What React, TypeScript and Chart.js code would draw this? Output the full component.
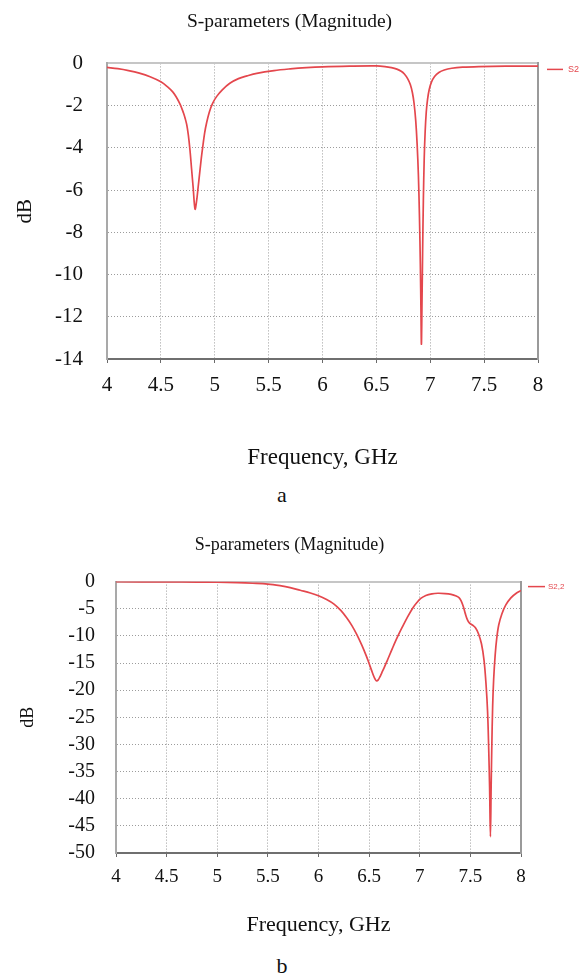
import React, { useEffect, useRef } from "react";
import { Chart, registerables } from "chart.js";

Chart.register(...registerables);

const SERIF = '"Liberation Serif", "Times New Roman", serif';
const SANS = '"Liberation Sans", Arial, sans-serif';

// ---- data -------------------------------------------------------------

const seriesLabel = "S2,2";
const chartTitle = "S-parameters (Magnitude)";
const xAxisTitle = "Frequency, GHz";
const yAxisTitle = "dB";

// panel a: |S2,2| in dB
const freqA = [
  4.0, 4.1, 4.2, 4.3, 4.4, 4.5, 4.56, 4.61, 4.64, 4.68, 4.71, 4.725, 4.74,
  4.755, 4.77, 4.785, 4.8, 4.817, 4.832, 4.845, 4.86, 4.875, 4.89, 4.906,
  4.925, 4.95, 4.98, 5.02, 5.07, 5.14, 5.22, 5.3, 5.39, 5.55, 5.7, 5.85, 6.0,
  6.25, 6.5, 6.58, 6.64, 6.69, 6.73, 6.76, 6.79, 6.815, 6.835, 6.85, 6.865,
  6.878, 6.89, 6.9, 6.908, 6.914, 6.918, 6.923, 6.929, 6.936, 6.944, 6.953,
  6.963, 6.975, 6.99, 7.01, 7.04, 7.08, 7.13, 7.2, 7.3, 7.45, 7.7, 8.0,
];
const s22A = [
  -0.19, -0.25, -0.34, -0.46, -0.63, -0.87, -1.1, -1.35, -1.57, -1.95, -2.35,
  -2.6, -2.9, -3.4, -4.1, -5.0, -5.9, -6.9, -6.5, -5.9, -5.2, -4.5, -3.9,
  -3.3, -2.8, -2.3, -1.89, -1.55, -1.25, -0.94, -0.72, -0.59, -0.47, -0.34,
  -0.26, -0.2, -0.16, -0.13, -0.12, -0.15, -0.2, -0.27, -0.37, -0.5, -0.72,
  -1.0, -1.4, -1.9, -2.7, -3.8, -5.3, -7.3, -9.5, -11.8, -13.3, -11.5, -9.0,
  -6.5, -4.5, -3.2, -2.3, -1.7, -1.25, -0.9, -0.62, -0.43, -0.31, -0.23,
  -0.18, -0.15, -0.13, -0.13,
];

// panel b: |S2,2| in dB
const freqB = [
  4.0, 4.5, 4.8, 5.0, 5.2, 5.35, 5.5, 5.62, 5.72, 5.82, 5.92, 6.0, 6.08, 6.15,
  6.22, 6.28, 6.33, 6.38, 6.43, 6.47, 6.5, 6.525, 6.545, 6.56, 6.575, 6.59,
  6.605, 6.625, 6.65, 6.68, 6.73, 6.78, 6.83, 6.88, 6.93, 6.97, 7.01, 7.06,
  7.12, 7.18, 7.25, 7.31, 7.36, 7.39, 7.41, 7.43, 7.45, 7.47, 7.49, 7.52,
  7.55, 7.58, 7.61, 7.635, 7.655, 7.67, 7.68, 7.69, 7.698, 7.705, 7.712, 7.72,
  7.73, 7.745, 7.76, 7.78, 7.81, 7.85, 7.9, 7.95, 8.0,
];
const s22B = [
  -0.02, -0.05, -0.08, -0.12, -0.2, -0.3, -0.45, -0.75, -1.1, -1.6, -2.1,
  -2.6, -3.3, -4.1, -5.3, -6.7, -8.1, -9.8, -11.8, -13.6, -15.1, -16.4,
  -17.4, -18.0, -18.3, -18.1, -17.6, -16.8, -15.8, -14.5, -12.3, -10.2, -8.3,
  -6.5, -4.9, -3.9, -3.1, -2.55, -2.25, -2.15, -2.2, -2.35, -2.65, -3.0, -3.6,
  -4.6, -5.9, -7.0, -7.6, -8.0, -8.5, -9.6, -11.5, -14.5, -19, -24, -30, -38,
  -47, -38, -30, -23, -18, -13.5, -10.5, -8.0, -6.0, -4.3, -3.0, -2.2, -1.66,
];

const freqTicks = [4, 4.5, 5, 5.5, 6, 6.5, 7, 7.5, 8];
const dbTicksA = [0, -2, -4, -6, -8, -10, -12, -14];
const dbTicksB = [0, -5, -10, -15, -20, -25, -30, -35, -40, -45, -50];

// ---- chart helpers ----------------------------------------------------

const LINE_RED = "#e4474d";

// small legend entry drawn to the right of the plot frame
const sideLegend = {
  id: "sideLegend",
  afterDraw(chart: any, _args: any, opts: any) {
    const { ctx, chartArea } = chart;
    const ds = chart.data.datasets[0];
    const y = chartArea.top + opts.dy;
    const x0 = chartArea.right + opts.dx;
    ctx.save();
    ctx.strokeStyle = ds.borderColor;
    ctx.lineWidth = 1.5;
    ctx.beginPath();
    ctx.moveTo(x0, y);
    ctx.lineTo(x0 + opts.len, y);
    ctx.stroke();
    ctx.fillStyle = ds.borderColor;
    ctx.font = `${opts.size}px ${SANS}`;
    ctx.textBaseline = "middle";
    ctx.textAlign = "left";
    ctx.fillText(ds.label, x0 + opts.len + opts.gap, y);
    ctx.restore();
  },
};

type PanelSpec = {
  top: number;
  height: number;
  freq: number[];
  db: number[];
  yTicks: number[];
  titleSize: number;
  titlePad: { top: number; bottom: number };
  yWidth: number;
  yTickSize: number;
  yTickPad: number;
  yTitleSize: number;
  yTitlePad: number;
  rightWidth: number;
  xTickSize: number;
  xTickPad: number;
  xHeight: number;
  xTitleSize: number;
  legend: { dx: number; dy: number; len: number; gap: number; size: number };
};

const gridColor = "#9c9c9c";

function buildConfig(p: PanelSpec): any {
  const yMin = Math.min(...p.yTicks);
  const yMax = Math.max(...p.yTicks);
  const xMin = Math.min(...freqTicks);
  const xMax = Math.max(...freqTicks);
  return {
    type: "line",
    data: {
      datasets: [
        {
          label: seriesLabel,
          data: p.freq.map((f, i) => ({ x: f, y: p.db[i] })),
          borderColor: LINE_RED,
          backgroundColor: LINE_RED,
          borderWidth: 1.7,
          pointRadius: 0,
          tension: 0.35,
          fill: false,
        },
      ],
    },
    options: {
      responsive: false,
      animation: false,
      events: [],
      layout: { padding: 0 },
      plugins: {
        legend: { display: false },
        tooltip: { enabled: false },
        title: {
          display: true,
          text: chartTitle,
          color: "#111",
          font: { family: SERIF, size: p.titleSize, weight: "normal" },
          padding: p.titlePad,
        },
        sideLegend: p.legend,
      },
      scales: {
        x: {
          type: "linear",
          position: "bottom",
          min: xMin,
          max: xMax,
          afterBuildTicks: (s: any) => {
            s.ticks = freqTicks.map((v) => ({ value: v }));
          },
          afterFit: (s: any) => {
            s.height = p.xHeight;
          },
          ticks: {
            callback: (v: any) => String(v),
            color: "#111",
            font: { family: SERIF, size: p.xTickSize },
            padding: p.xTickPad,
            maxRotation: 0,
            autoSkip: false,
          },
          grid: {
            color: gridColor,
            lineWidth: 1,
            drawTicks: true,
            tickLength: 4,
            tickColor: "#6a6a6a",
            tickWidth: 1,
          },
          border: { display: true, color: "#6f6f6f", width: 2, dash: [1, 2] },
          title: {
            display: true,
            text: xAxisTitle,
            color: "#111",
            font: { family: SERIF, size: p.xTitleSize },
            padding: { top: 0, bottom: 0 },
          },
        },
        xTop: {
          type: "linear",
          position: "top",
          min: xMin,
          max: xMax,
          afterFit: (s: any) => {
            s.height = 0;
          },
          ticks: { display: false },
          grid: { display: false },
          border: { display: true, color: "#c6c6c6", width: 2 },
        },
        y: {
          type: "linear",
          position: "left",
          min: yMin,
          max: yMax,
          afterBuildTicks: (s: any) => {
            s.ticks = p.yTicks.map((v) => ({ value: v }));
          },
          afterFit: (s: any) => {
            s.width = p.yWidth;
          },
          ticks: {
            callback: (v: any) => String(v),
            color: "#111",
            font: { family: SERIF, size: p.yTickSize },
            padding: p.yTickPad,
          },
          grid: { color: gridColor, lineWidth: 1, drawTicks: false },
          border: { display: true, color: "#a9a9a9", width: 2, dash: [1, 2] },
          title: {
            display: true,
            text: yAxisTitle,
            color: "#111",
            font: { family: SERIF, size: p.yTitleSize },
            padding: { top: p.yTitlePad, bottom: 0 },
          },
        },
        yRight: {
          type: "linear",
          position: "right",
          min: yMin,
          max: yMax,
          afterFit: (s: any) => {
            s.width = p.rightWidth;
          },
          ticks: { display: false },
          grid: { display: false },
          border: { display: true, color: "#9a9a9a", width: 2 },
        },
      },
    },
    plugins: [sideLegend],
  };
}

function Panel({ spec }: { spec: PanelSpec }) {
  const ref = useRef<HTMLCanvasElement | null>(null);
  useEffect(() => {
    if (!ref.current) return;
    const chart = new Chart(ref.current, buildConfig(spec));
    return () => chart.destroy();
  }, [spec]);
  return (
    <canvas
      ref={ref}
      width={579}
      height={spec.height}
      style={{
        position: "absolute",
        left: 0,
        top: spec.top,
        width: 579,
        height: spec.height,
        display: "block",
      }}
    />
  );
}

function Caption({ text, top }: { text: string; top: number }) {
  return (
    <div
      style={{
        position: "absolute",
        left: 232,
        width: 100,
        top,
        textAlign: "center",
        fontFamily: SERIF,
        fontSize: 22,
        lineHeight: "22px",
        color: "#111",
      }}
    >
      {text}
    </div>
  );
}

const panelA: PanelSpec = {
  top: 0,
  height: 472,
  freq: freqA,
  db: s22A,
  yTicks: dbTicksA,
  titleSize: 19.5,
  titlePad: { top: 10, bottom: 30 },
  yWidth: 107,
  yTickSize: 21,
  yTickPad: 24,
  yTitleSize: 21,
  yTitlePad: 13,
  rightWidth: 41,
  xTickSize: 21,
  xTickPad: 10,
  xHeight: 113,
  xTitleSize: 23,
  legend: { dx: 9, dy: 6, len: 16, gap: 5, size: 9 },
};

const panelB: PanelSpec = {
  top: 520,
  height: 418,
  freq: freqB,
  db: s22B,
  yTicks: dbTicksB,
  titleSize: 18,
  titlePad: { top: 14, bottom: 26 },
  yWidth: 116,
  yTickSize: 20,
  yTickPad: 21,
  yTitleSize: 18,
  yTitlePad: 17,
  rightWidth: 58,
  xTickSize: 19,
  xTickPad: 9,
  xHeight: 85,
  xTitleSize: 22,
  legend: { dx: 7, dy: 5, len: 17, gap: 3, size: 8 },
};

export default function App() {
  return (
    <div
      style={{
        position: "absolute",
        left: 0,
        top: 0,
        width: 579,
        height: 976,
        background: "#fff",
        overflow: "hidden",
      }}
    >
      <Panel spec={panelA} />
      <Caption text="a" top={484} />
      <Panel spec={panelB} />
      <Caption text="b" top={955} />
    </div>
  );
}
